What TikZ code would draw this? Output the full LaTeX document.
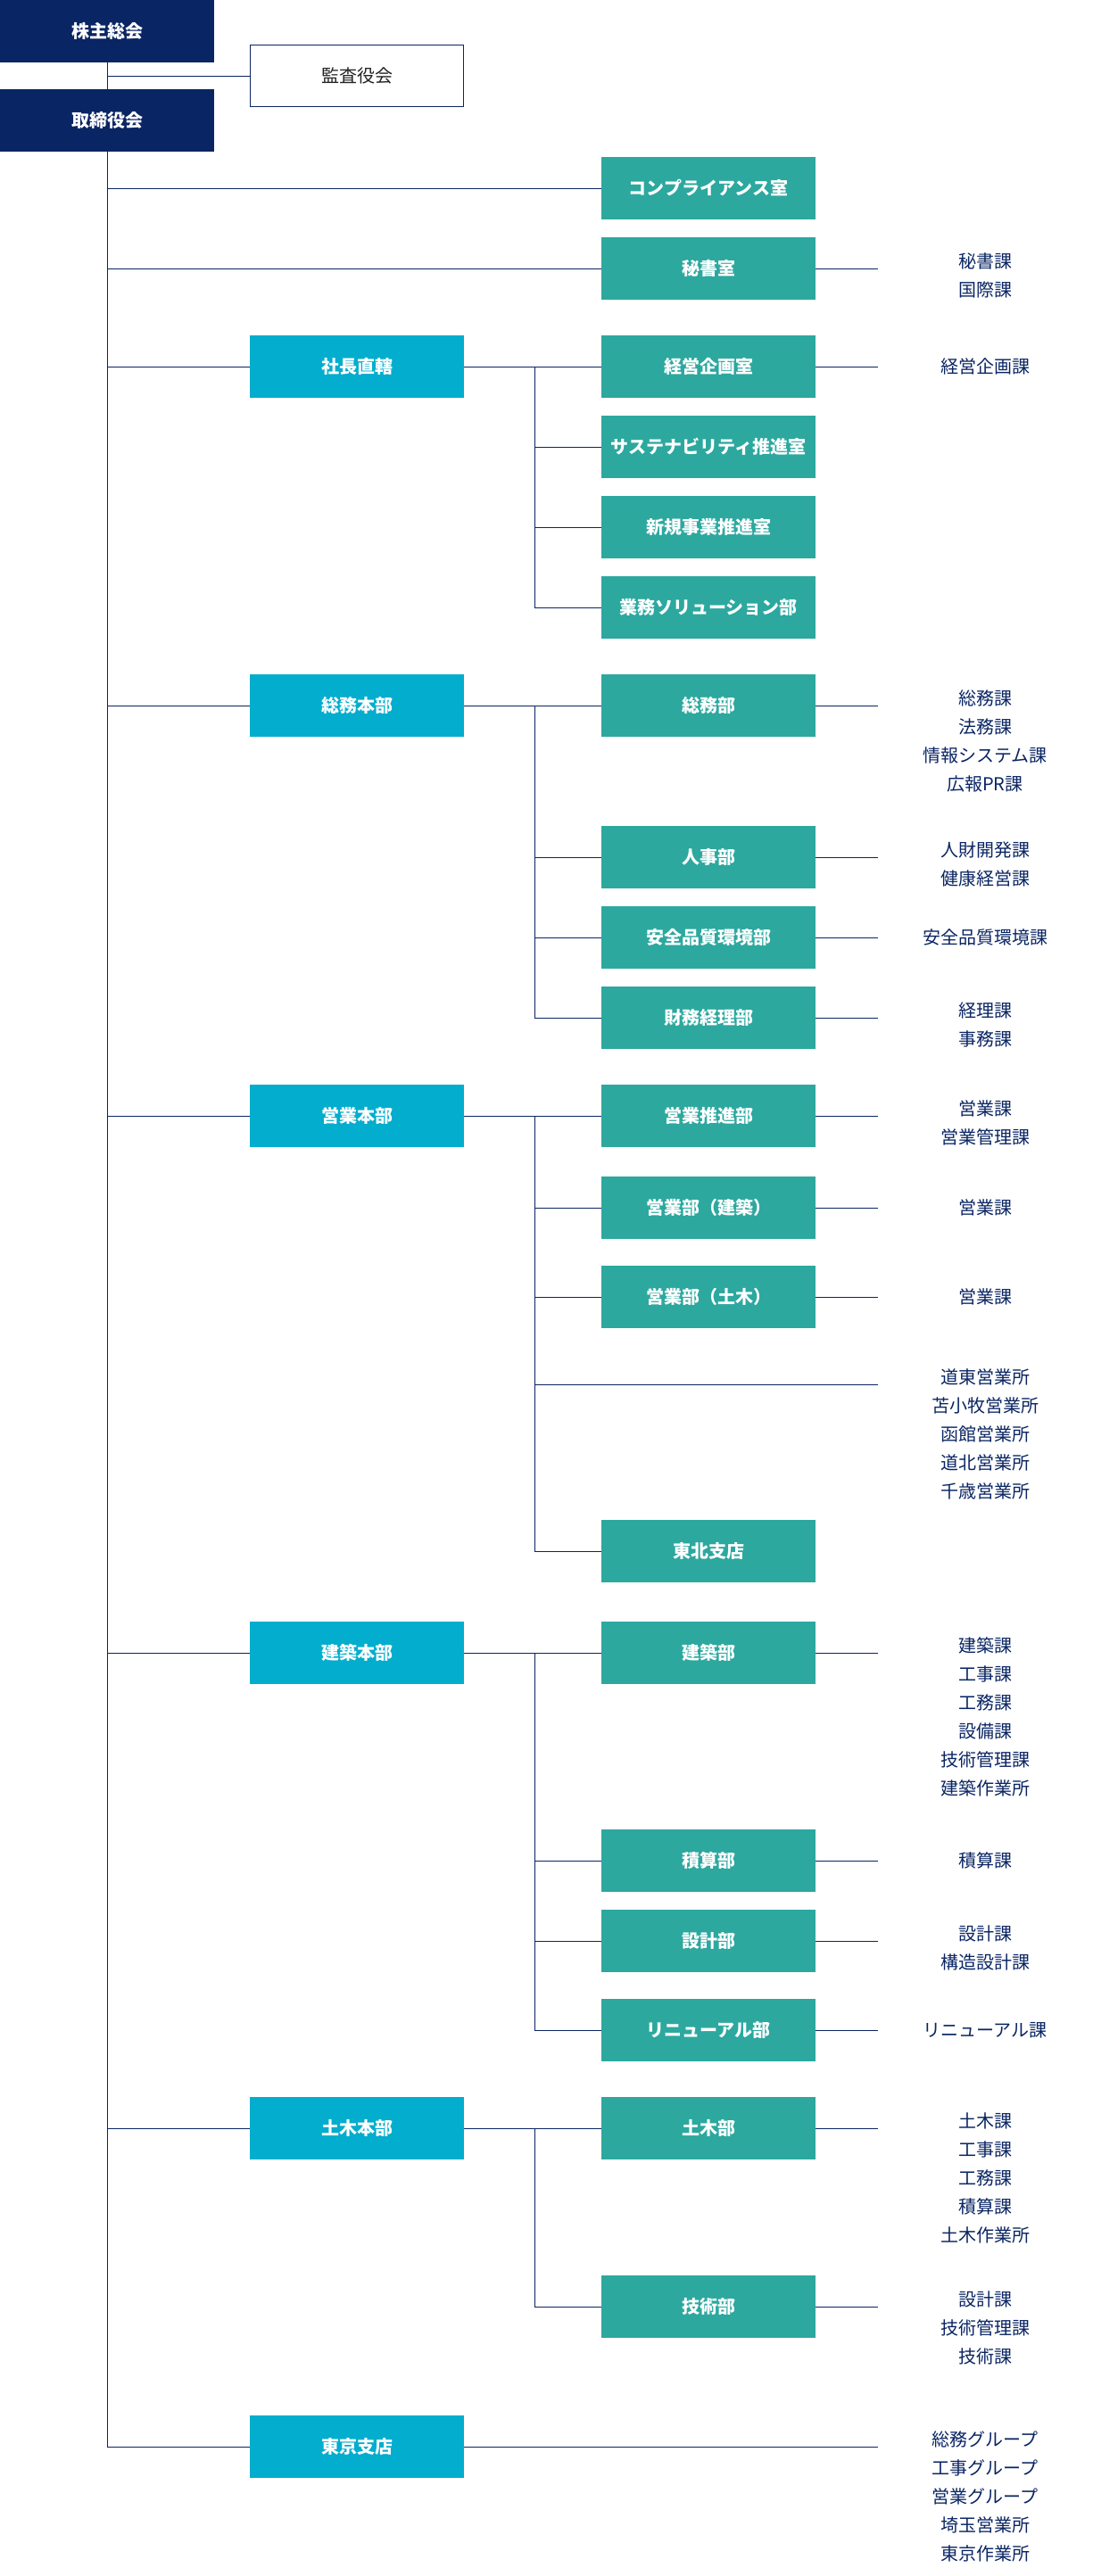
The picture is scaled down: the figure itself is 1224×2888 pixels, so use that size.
\documentclass[tikz,border=0pt]{standalone}
\usepackage{fontspec}
\setmainfont{Noto Sans CJK JP}
\usetikzlibrary{calc}
\definecolor{navy}{HTML}{0A2563}
\definecolor{cyanb}{HTML}{03ADCD}
\definecolor{tealb}{HTML}{2CA89F}
\definecolor{kansatext}{HTML}{222222}
\newcommand\fsz{\fontsize{20}{32}\selectfont}
\newcommand\lns[1]{\begin{tabular}[t]{@{}c@{}}#1\end{tabular}}
\tikzset{
  basebox/.style={rectangle, inner sep=0pt, minimum width=240pt, minimum height=70pt,
    text height=17.6pt, text depth=2.4pt, font=\fsz\bfseries, text=white},
  topbox/.style={basebox, fill=navy},
  hqbox/.style={basebox, fill=cyanb},
  deptbox/.style={basebox, fill=tealb},
  kbox/.style={basebox, fill=white, draw=navy, line width=1pt, text=kansatext, font=\fsz,
    minimum width=239pt, minimum height=69pt},
  lbl/.style={anchor=base, inner sep=0pt, text=navy, font=\fsz},
  conn/.style={draw=navy, line width=1pt},
}
\begin{document}
\begin{tikzpicture}[x=1pt,y=-1pt]
\useasboundingbox (0,0) rectangle (1224,2888);

% top
\node[topbox] (kabu) at (120,35) {株主総会};
\node[kbox] (kansa) at (400,85) {監査役会};
\node[topbox] (tori) at (120,135) {取締役会};

% departments
\node[deptbox] (comp) at (794,211) {コンプライアンス室};
\node[deptbox] (hisho) at (794,301) {秘書室};
\node[hqbox] (shacho) at (400,411) {社長直轄};
\node[deptbox] (keiei) at (794,411) {経営企画室};
\node[deptbox] (sasu) at (794,501) {サステナビリティ推進室};
\node[deptbox] (shinki) at (794,591) {新規事業推進室};
\node[deptbox] (gyomu) at (794,681) {業務ソリューション部};

\node[hqbox] (somuhq) at (400,791) {総務本部};
\node[deptbox] (somu) at (794,791) {総務部};
\node[deptbox] (jinji) at (794,961) {人事部};
\node[deptbox] (anzen) at (794,1051) {安全品質環境部};
\node[deptbox] (zaimu) at (794,1141) {財務経理部};

\node[hqbox] (eigyohq) at (400,1251) {営業本部};
\node[deptbox] (esuishin) at (794,1251) {営業推進部};
\node[deptbox] (ekenchiku) at (794,1354) {営業部（建築）};
\node[deptbox] (edoboku) at (794,1454) {営業部（土木）};
\node[deptbox] (tohoku) at (794,1739) {東北支店};

\node[hqbox] (kenchikuhq) at (400,1853) {建築本部};
\node[deptbox] (kenchiku) at (794,1853) {建築部};
\node[deptbox] (sekisan) at (794,2086) {積算部};
\node[deptbox] (sekkei) at (794,2176) {設計部};
\node[deptbox] (renewal) at (794,2276) {リニューアル部};

\node[hqbox] (dobokuhq) at (400,2386) {土木本部};
\node[deptbox] (doboku) at (794,2386) {土木部};
\node[deptbox] (gijutsu) at (794,2586) {技術部};

\node[hqbox] (tokyo) at (400,2743) {東京支店};

% labels (first line centre + 7.6 = baseline)
\node[lbl] (lhisho) at (1104,300.6) {\lns{秘書課\\国際課}};
\node[lbl] (lkeiei) at (1104,418.6) {\lns{経営企画課}};
\node[lbl] (lsomu) at (1104,790.6) {\lns{総務課\\法務課\\情報システム課\\広報PR課}};
\node[lbl] (ljinji) at (1104,960.6) {\lns{人財開発課\\健康経営課}};
\node[lbl] (lanzen) at (1104,1058.6) {\lns{安全品質環境課}};
\node[lbl] (lzaimu) at (1104,1140.6) {\lns{経理課\\事務課}};
\node[lbl] (lesuishin) at (1104,1250.6) {\lns{営業課\\営業管理課}};
\node[lbl] (lekenchiku) at (1104,1361.6) {\lns{営業課}};
\node[lbl] (ledoboku) at (1104,1461.6) {\lns{営業課}};
\node[lbl] (leigyosho) at (1104,1551.6) {\lns{道東営業所\\苫小牧営業所\\函館営業所\\道北営業所\\千歳営業所}};
\node[lbl] (lkenchiku) at (1104,1852.6) {\lns{建築課\\工事課\\工務課\\設備課\\技術管理課\\建築作業所}};
\node[lbl] (lsekisan) at (1104,2093.6) {\lns{積算課}};
\node[lbl] (lsekkei) at (1104,2175.6) {\lns{設計課\\構造設計課}};
\node[lbl] (lrenewal) at (1104,2283.6) {\lns{リニューアル課}};
\node[lbl] (ldoboku) at (1104,2385.6) {\lns{土木課\\工事課\\工務課\\積算課\\土木作業所}};
\node[lbl] (lgijutsu) at (1104,2585.6) {\lns{設計課\\技術管理課\\技術課}};
\node[lbl] (ltokyo) at (1104,2742.6) {\lns{総務グループ\\工事グループ\\営業グループ\\埼玉営業所\\東京作業所}};

% helper coordinates
\coordinate (rx) at (984,0);
\coordinate (sx) at (599,0);

% top connectors
\draw[conn] (kabu.south) -- (tori.north);
\draw[conn] (kabu.south |- kansa.west) -- (kansa.west);
\draw[conn] (tori.south) |- (tokyo.west);

% main branches
\foreach \n in {comp,hisho,shacho,somuhq,eigyohq,kenchikuhq,dobokuhq}
  \draw[conn] (tori.south |- \n.west) -- (\n.west);

% hq to first dept
\draw[conn] (shacho.east) -- (keiei.west);
\draw[conn] (somuhq.east) -- (somu.west);
\draw[conn] (eigyohq.east) -- (esuishin.west);
\draw[conn] (kenchikuhq.east) -- (kenchiku.west);
\draw[conn] (dobokuhq.east) -- (doboku.west);

% secondary trunks
\draw[conn] (sx |- shacho.east) |- (gyomu.west);
\draw[conn] (sx |- sasu.west) -- (sasu.west);
\draw[conn] (sx |- shinki.west) -- (shinki.west);

\draw[conn] (sx |- somuhq.east) |- (zaimu.west);
\draw[conn] (sx |- jinji.west) -- (jinji.west);
\draw[conn] (sx |- anzen.west) -- (anzen.west);

\draw[conn] (sx |- eigyohq.east) |- (tohoku.west);
\draw[conn] (sx |- ekenchiku.west) -- (ekenchiku.west);
\draw[conn] (sx |- edoboku.west) -- (edoboku.west);
\coordinate (blank) at (599,1552);
\draw[conn] (blank) -- (rx |- blank);

\draw[conn] (sx |- kenchikuhq.east) |- (renewal.west);
\draw[conn] (sx |- sekisan.west) -- (sekisan.west);
\draw[conn] (sx |- sekkei.west) -- (sekkei.west);

\draw[conn] (sx |- dobokuhq.east) |- (gijutsu.west);

% to section labels
\foreach \n in {hisho,keiei,somu,jinji,anzen,zaimu,esuishin,ekenchiku,edoboku,kenchiku,sekisan,sekkei,renewal,doboku,gijutsu,tokyo}
  \draw[conn] (\n.east) -- (rx |- \n.east);
\end{tikzpicture}
\end{document}
